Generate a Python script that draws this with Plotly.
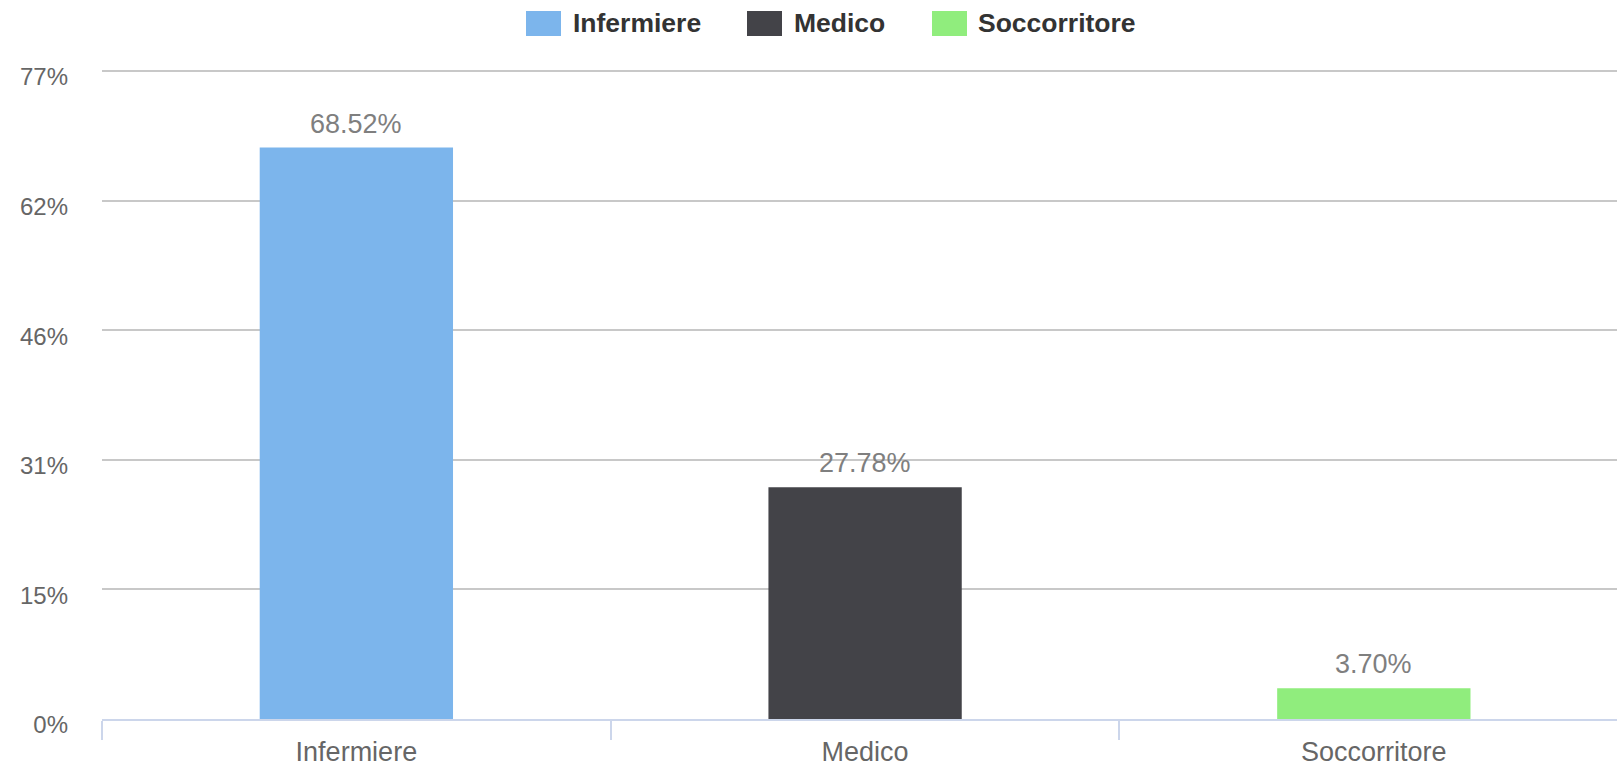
import plotly.graph_objects as go

# ---- data ----
categories = ["Infermiere", "Medico", "Soccorritore"]
values = [68.52, 27.78, 3.70]
value_labels = ["68.52%", "27.78%", "3.70%"]
colors = ["#7cb5ec", "#434348", "#90ed7d"]
y_tick_values = [0, 15.54, 31.08, 46.62, 62.16, 77.7]
y_tick_labels = ["0%", "15%", "31%", "46%", "62%", "77%"]

W, H = 1617, 766
ML, MR, MT, MB = 102, 0, 69, 47
PW, PH = W - ML - MR, H - MT - MB
FONT = "Liberation Sans, Arial, sans-serif"

def px_x(x):
    return (x - ML) / PW

def px_y(y):
    return (H - MB - y) / PH

fig = go.Figure()
fig.add_trace(go.Bar(
    x=categories, y=values, marker=dict(color=colors, line=dict(width=0)),
    width=0.38, showlegend=False, hoverinfo="x+y",
))

# data labels
for c, v, t in zip(categories, values, value_labels):
    fig.add_annotation(x=c, y=v, text=t, showarrow=False, yanchor="middle",
                       yshift=24, font=dict(family=FONT, size=27, color="#7f7f7f"))

# custom legend (Highcharts-style)
legend_sq_x = [526, 747, 932]
legend_txt_x = [571, 792, 976]
sq_w, sq_top, sq_bot = 35, 11, 36
for name, col, sx, tx in zip(categories, colors, legend_sq_x, legend_txt_x):
    fig.add_shape(type="rect", xref="paper", yref="paper",
                  x0=px_x(sx), x1=px_x(sx + sq_w), y0=px_y(sq_bot), y1=px_y(sq_top),
                  fillcolor=col, line=dict(width=0), layer="above")
    fig.add_annotation(xref="paper", yref="paper", x=px_x(tx), y=px_y((sq_top + sq_bot) / 2),
                       text="<b>%s</b>" % name, showarrow=False, xanchor="left", yanchor="middle",
                       font=dict(family=FONT, size=26.5, color="#333333"))

fig.update_layout(
    width=W, height=H,
    margin=dict(l=ML, r=MR, t=MT, b=MB, pad=0),
    paper_bgcolor="white", plot_bgcolor="white",
    barmode="overlay",
    font=dict(family=FONT, color="#666666"),
)
fig.update_xaxes(
    type="category", range=[-0.5, 2.478],
    showline=True, linecolor="#ccd6eb", linewidth=1.5,
    ticks="outside", tickson="boundaries", ticklen=19, tickcolor="#ccd6eb", tickwidth=1.5,
    ticklabelstandoff=8,
    showgrid=False, tickfont=dict(family=FONT, size=27, color="#666666"),
)
fig.update_yaxes(
    range=[0, 77.94], tickvals=y_tick_values, ticktext=y_tick_labels,
    showgrid=True, gridcolor="#c8c8c8", gridwidth=1.5, zeroline=False,
    showline=False, ticks="", ticklabelstandoff=33, ticklabelshift=6,
    tickfont=dict(family=FONT, size=24, color="#666666"),
)

fig.write_html("out.html", config={"displayModeBar": False},
               post_script="document.body.style.margin='0';document.body.style.overflow='hidden';")
